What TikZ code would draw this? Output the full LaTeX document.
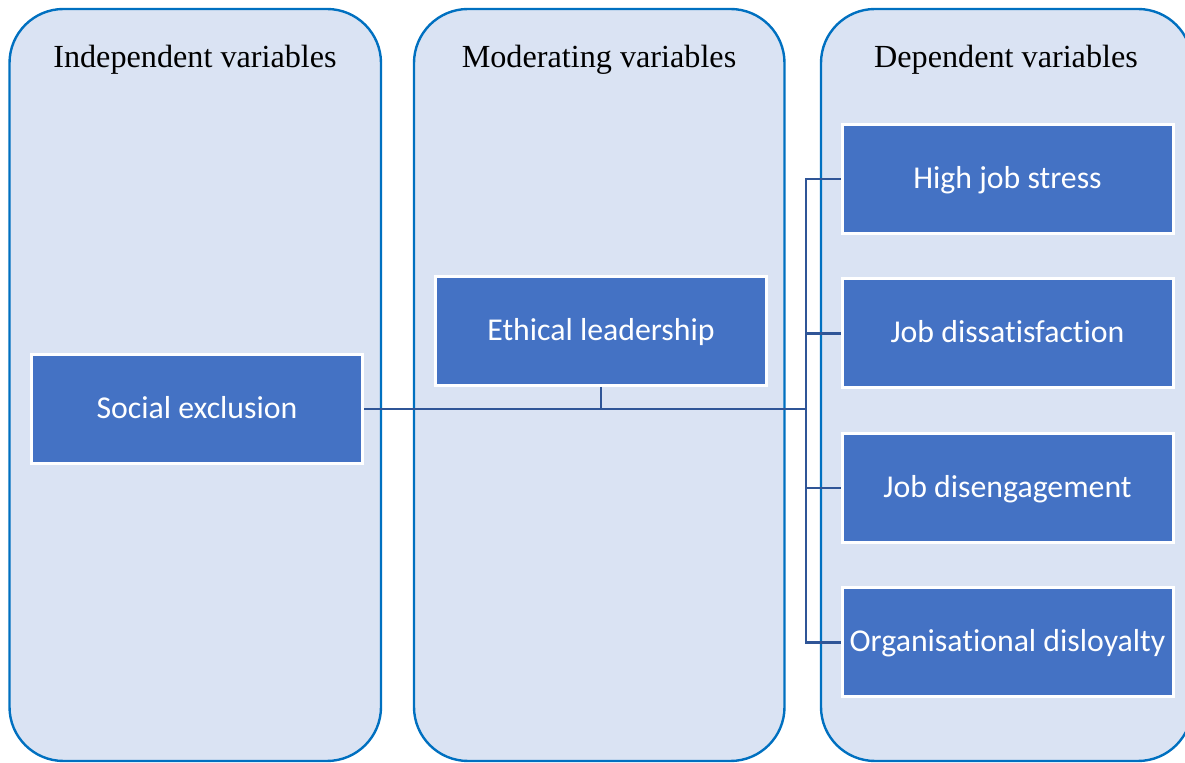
\documentclass[tikz,border=0pt]{standalone}
\usepackage{fontspec}
\setmainfont{Liberation Serif}
\newfontfamily\boxfont[Ligatures=NoCommon]{Carlito}
\begin{document}
\begin{tikzpicture}[x=0.5pt,y=-0.5pt,
  panel/.style={draw=panelblue,fill=panelfill,line width=1.2pt,rounded corners=27pt},
  header/.style={anchor=base,font=\fontsize{16.1}{19}\selectfont,text=black},
  varbox/.style={draw=white,fill=boxblue,line width=1.5pt,minimum width=165.5pt,
    minimum height=54.5pt,inner sep=0pt,text height=12.5pt,text depth=3pt,text=white,
    font=\boxfont\fontsize{15.9}{18}\selectfont},
  conn/.style={draw=linkblue,line width=1.45pt}]
\definecolor{panelblue}{HTML}{0070C0}
\definecolor{panelfill}{HTML}{DAE3F3}
\definecolor{boxblue}{HTML}{4472C4}
\definecolor{linkblue}{HTML}{2F5597}
\useasboundingbox (0,0) rectangle (1185,763);
\begin{scope}
\clip (0,0) rectangle (1185,763);
% the three variable panels
\draw[panel] (9.5,9) rectangle (381,761);
\draw[panel] (414,9) rectangle (784.5,761);
\draw[panel] (821,9) rectangle (1192,761);
\end{scope}
\node[header] (h1) at (195,67.5) {Independent variables};
\node[header] (h2) at (599,67.5) {Moderating variables};
\node[header] (h3) at (1006,67.5) {Dependent variables};
% junction where the independent and moderating lines meet the bracket
\coordinate (jx) at (806,409);
% variable boxes
\node[varbox] (se) at (197,409) {Social exclusion};
\node[varbox] (el) at (601,331) {Ethical leadership};
\node[varbox] (d1) at (1007.5,179) {High job stress};
\node[varbox] (d2) at (1007.5,333.5) {Job dissatisfaction};
\node[varbox] (d3) at (1007.5,488) {Job disengagement};
\node[varbox] (d4) at (1007.5,642.5) {Organisational disloyalty};
% connectors
\draw[conn] (d1.west) -- (d1.west -| jx) -- (d4.west -| jx) -- (d4.west);
\draw[conn] (d2.west) -- (d2.west -| jx);
\draw[conn] (d3.west) -- (d3.west -| jx);
\draw[conn] (se.east) -- (jx);
\draw[conn] (el.south) -- (el.south |- jx);
\end{tikzpicture}
\end{document}
